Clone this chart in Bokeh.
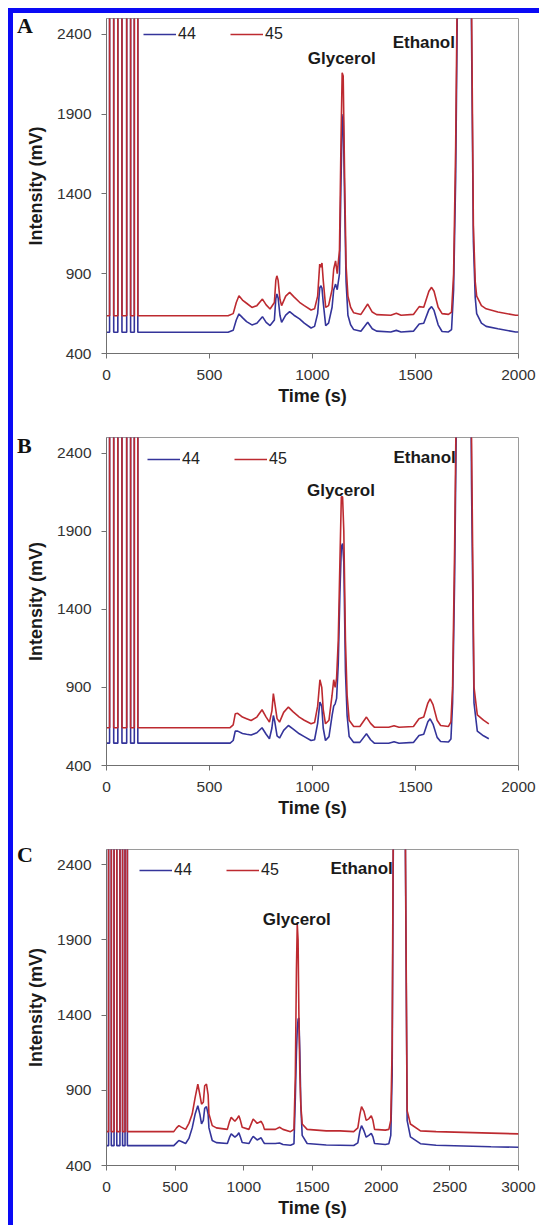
from bokeh.plotting import figure
from bokeh.layouts import column
from bokeh.models import Range1d, FixedTicker, Label, Legend, LegendItem, Div
from bokeh.embed import file_html
from bokeh.resources import INLINE

# ---------------- data ----------------
SERIES_NAMES = ["44", "45"]
PANEL_LETTERS = ["A", "B", "C"]
Y_TICKS = [400, 900, 1400, 1900, 2400]

# injection pulses at the start of each run (off-scale)
pulse_time = [0, 15, 15, 35, 35, 55, 55, 75, 75, 98, 98, 117, 117, 135, 135, 152, 152]
pulse_on = [0, 0, 1, 1, 0, 0, 1, 1, 0, 0, 1, 1, 0, 0, 1, 1, 0]
PULSE_TOP = 3000

# Panel A
a_time = [590, 615, 630, 643, 660, 680, 706, 730, 757, 775,
          794, 815, 822, 827, 833, 842, 850, 870, 889, 910,
          937, 960, 993, 1010, 1025, 1035, 1040, 1046, 1052, 1064,
          1078, 1095, 1103, 1112, 1120, 1131, 1138, 1144, 1149, 1156,
          1163, 1172, 1185, 1200, 1235, 1268, 1290, 1311, 1380, 1407,
          1430, 1490, 1518, 1540, 1565, 1578, 1590, 1610, 1629, 1660,
          1675, 1685, 1695, 1705, 1712, 1765, 1772, 1781, 1790, 1797,
          1820, 1843, 1900, 1986, 2000]
a_m45 = [637, 650, 720, 762, 735, 715, 689, 700, 741, 705,
         679, 720, 860, 887, 860, 740, 700, 760, 783, 755,
         721, 700, 673, 680, 760, 960, 940, 967, 860, 689,
         700, 800, 930, 981, 900, 1050, 1700, 2160, 2140, 1500,
         950, 760, 690, 655, 645, 710, 660, 644, 640, 652,
         640, 645, 694, 690, 790, 815, 790, 690, 650, 645,
         660, 900, 1700, 3000, 3500, 3500, 2600, 1200, 850, 760,
         700, 680, 660, 640, 640]
a_m44 = [533, 545, 610, 648, 625, 600, 579, 590, 631, 595,
         575, 610, 745, 773, 750, 640, 595, 640, 662, 640,
         617, 590, 560, 570, 650, 810, 825, 810, 720, 575,
         590, 690, 800, 835, 800, 900, 1450, 1850, 1900, 1350,
         850, 640, 580, 550, 540, 596, 555, 540, 535, 545,
         535, 540, 585, 590, 675, 694, 670, 580, 538, 535,
         550, 800, 1500, 2800, 3500, 3500, 2400, 1100, 750, 650,
         590, 570, 555, 535, 535]
a_base45, a_base44 = 637, 533

# Panel B
b_time = [600, 615, 625, 637, 660, 680, 702, 730, 755, 775,
          791, 803, 810, 817, 828, 840, 860, 883, 905, 936,
          960, 993, 1010, 1025, 1036, 1045, 1052, 1063, 1080, 1095,
          1103, 1110, 1117, 1125, 1133, 1140, 1146, 1152, 1160, 1168,
          1178, 1200, 1230, 1262, 1282, 1300, 1370, 1396, 1420, 1490,
          1517, 1540, 1560, 1571, 1585, 1605, 1622, 1660, 1672, 1680,
          1690, 1700, 1710, 1765, 1772, 1784, 1800, 1830, 1856]
b_m45 = [642, 660, 731, 734, 710, 700, 688, 710, 757, 710,
         678, 750, 860, 800, 700, 678, 740, 774, 745, 710,
         690, 667, 675, 780, 949, 900, 760, 667, 690, 850,
         949, 900, 960, 1200, 1700, 2120, 2120, 1900, 1200, 850,
         690, 650, 650, 710, 670, 646, 645, 655, 645, 650,
         699, 710, 800, 827, 790, 690, 656, 650, 680, 900,
         1800, 3000, 3500, 3500, 2500, 902, 724, 690, 667]
b_m44 = [543, 560, 620, 620, 605, 600, 595, 610, 642, 600,
         571, 640, 720, 680, 590, 576, 625, 656, 635, 603,
         585, 560, 565, 670, 806, 780, 640, 560, 585, 720,
         780, 795, 830, 1050, 1500, 1800, 1821, 1700, 1000, 720,
         585, 548, 548, 603, 565, 543, 542, 552, 542, 548,
         592, 600, 680, 699, 665, 580, 554, 550, 570, 800,
         1600, 2800, 3500, 3500, 2200, 800, 620, 590, 571]
b_base45, b_base44 = 642, 543

# Panel C
c_time = [490, 510, 527, 545, 576, 600, 624, 645, 665, 680,
          692, 705, 715, 728, 740, 746, 770, 800, 880, 895,
          908, 935, 950, 964, 975, 988, 1037, 1055, 1068, 1097,
          1126, 1140, 1150, 1230, 1260, 1285, 1340, 1365, 1375, 1383,
          1389, 1395, 1401, 1408, 1415, 1425, 1461, 1600, 1700, 1800,
          1830, 1845, 1857, 1875, 1891, 1910, 1928, 1940, 1952, 2030,
          2056, 2070, 2080, 2090, 2100, 2170, 2177, 2189, 2213, 2286,
          2400, 2600, 2800, 3000]
c_m45 = [625, 650, 665, 655, 640, 680, 742, 850, 941, 870,
         808, 820, 930, 941, 870, 742, 665, 650, 640, 690,
         720, 694, 710, 731, 700, 654, 640, 680, 709, 680,
         694, 670, 640, 640, 654, 640, 625, 640, 1000, 1700,
         2005, 1900, 1400, 1000, 800, 676, 640, 630, 630, 625,
         650, 740, 791, 760, 700, 710, 731, 700, 640, 635,
         640, 700, 1200, 3000, 3500, 3500, 2500, 765, 676, 630,
         625, 620, 615, 610]
c_m44 = [532, 550, 566, 560, 546, 580, 650, 740, 797, 740,
         676, 700, 780, 791, 740, 650, 566, 552, 546, 585,
         610, 588, 600, 617, 590, 553, 546, 575, 594, 570,
         584, 560, 546, 546, 550, 540, 535, 545, 850, 1150,
         1300, 1372, 1380, 1150, 800, 600, 546, 536, 535, 533,
         550, 630, 665, 630, 588, 600, 614, 590, 546, 540,
         545, 600, 1000, 2800, 3500, 3500, 2400, 700, 590, 545,
         535, 530, 525, 521]
c_base45, c_base44 = 625, 532

# ---------------- styling ----------------
BLUE = "#34349a"
RED = "#bd2a30"
FONT = "Liberation Sans"
SERIF = "Liberation Serif"


def with_pulses(times, vals, base):
    t = list(pulse_time) + list(times)
    v = [PULSE_TOP if on else base for on in pulse_on] + list(vals)
    return t, v


def panel(times, m44, m45, base44, base45, xmax, xstep, lay):
    p = figure(width=526, height=lay["h"], output_backend="svg", toolbar_location=None,
               x_range=Range1d(0, xmax), y_range=Range1d(400, 2500),
               min_border_left=lay["bl"], min_border_right=lay["br"],
               min_border_top=lay["bt"], min_border_bottom=lay["bb"])
    p.xgrid.visible = False
    p.ygrid.visible = False
    p.outline_line_color = "#9a9a9a"
    p.background_fill_color = "white"
    p.border_fill_color = "white"

    t44, v44 = with_pulses(times, m44, base44)
    t45, v45 = with_pulses(times, m45, base45)
    r44 = p.line(t44, v44, line_color=BLUE, line_width=1.6)
    r45 = p.line(t45, v45, line_color=RED, line_width=1.6)

    for ax in (p.xaxis[0], p.yaxis[0]):
        ax.axis_line_color = "#707070"
        ax.major_tick_line_color = "#707070"
        ax.major_tick_in = 0
        ax.major_tick_out = 5
        ax.minor_tick_line_color = None
        ax.major_label_text_font = FONT
        ax.major_label_text_font_size = "15.5px"
        ax.major_label_text_color = "#333333"
        ax.axis_label_text_font = FONT
        ax.axis_label_text_font_size = "18px"
        ax.axis_label_text_font_style = "bold"
        ax.axis_label_text_color = "#1a1a1a"
    p.xaxis.ticker = FixedTicker(ticks=list(range(0, xmax + 1, xstep)))
    p.yaxis.ticker = FixedTicker(ticks=Y_TICKS)
    p.xaxis.axis_label = "Time (s)"
    p.yaxis.axis_label = "Intensity (mV)"
    p.xaxis.major_label_standoff = lay["xs"]
    p.xaxis.axis_label_standoff = lay["xls"]
    p.yaxis.major_label_standoff = 10
    p.yaxis.axis_label_standoff = 8

    leg = Legend(items=[LegendItem(label=SERIES_NAMES[0], renderers=[r44]),
                        LegendItem(label=SERIES_NAMES[1], renderers=[r45])],
                 orientation="horizontal", location=lay["leg"],
                 glyph_width=33, glyph_height=16, label_height=16,
                 label_standoff=2, spacing=32, padding=0, margin=0,
                 label_text_font=FONT, label_text_font_size="16px",
                 label_text_color="#222222",
                 border_line_alpha=0, background_fill_alpha=0)
    p.add_layout(leg)

    for txt, (x, y) in lay["notes"]:
        p.add_layout(Label(x=x, y=y, text=txt, text_font=FONT, text_font_size="17px",
                           text_font_style="bold", text_color="#1a1a1a",
                           text_align="left", text_baseline="alphabetic"))
    return p


def letter_div(letter, top):
    html = ('<div style="position:relative; left:4px; top:%dpx; line-height:22px; '
            'font-family:\'Liberation Serif\'; font-weight:bold; font-size:22px; '
            'color:#111111;">%s</div>' % (top, letter))
    return Div(text=html, width=30, height=30, margin=(0, 0, -30, 0),
               styles={"position": "relative", "z-index": "10",
                       "margin": "0px 0px -30px 0px"})


layA = dict(h=398, bl=89, br=18, bt=5, bb=58, xs=11, xls=3, leg=(37, 310),
            notes=[("Glycerol", (977, 2248)), ("Ethanol", (1389, 2352))], ltop=2)
layB = dict(h=412, bl=92, br=21, bt=26, bb=58, xs=11, xls=3, leg=(41, 297),
            notes=[("Glycerol", (973, 2163)), ("Ethanol", (1393, 2372))], ltop=24)
layC = dict(h=402, bl=93, br=21, bt=26, bb=60, xs=11, xls=3, leg=(33, 286),
            notes=[("Glycerol", (1138, 2034)), ("Ethanol", (1631, 2371))], ltop=21)

pA = panel(a_time, a_m44, a_m45, a_base44, a_base45, 2000, 500, layA)
pB = panel(b_time, b_m44, b_m45, b_base44, b_base45, 2000, 500, layB)
pC = panel(c_time, c_m44, c_m45, c_base44, c_base45, 3000, 500, layC)

items = []
for letter, p, lay in zip(PANEL_LETTERS, (pA, pB, pC), (layA, layB, layC)):
    items.append(letter_div(letter, lay["ltop"]))
    items.append(p)

layout = column(*items, spacing=0,
                styles={"margin-left": "8px", "margin-top": "8px",
                        "border-left": "5px solid #0a0af5", "border-top": "5px solid #0a0af5"})

open("out.html", "w").write(file_html(layout, INLINE))
